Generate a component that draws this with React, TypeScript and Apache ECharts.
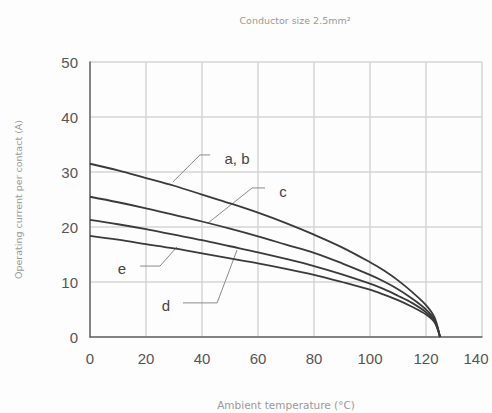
import React, { useEffect, useRef } from "react";
import * as echarts from "echarts";

const temps = [0, 10, 20, 30, 40, 50, 60, 70, 80, 90, 100, 105, 110, 115, 120, 123, 125];
const curveAB = [31.5, 30.3, 28.9, 27.5, 25.9, 24.3, 22.6, 20.7, 18.6, 16.3, 13.6, 12.1, 10.3, 8.2, 5.8, 3.6, 0];
const curveC = [25.5, 24.5, 23.4, 22.2, 21.0, 19.7, 18.3, 16.8, 15.3, 13.4, 11.3, 10.1, 8.7, 7.0, 5.0, 3.2, 0];
const curveE = [21.3, 20.5, 19.6, 18.6, 17.6, 16.5, 15.4, 14.2, 12.9, 11.4, 9.7, 8.7, 7.5, 6.2, 4.5, 2.9, 0];
const curveD = [18.4, 17.7, 16.9, 16.1, 15.2, 14.3, 13.4, 12.4, 11.3, 10.0, 8.6, 7.7, 6.7, 5.5, 4.1, 2.7, 0];

const labels = [
  { text: "a, b", at: [52.5, 32.5], leader: [[42.9, 33.1], [39.3, 33.1], [29.6, 28.2]] },
  { text: "c", at: [68.9, 26.4], leader: [[62.5, 27.1], [57.9, 27.1], [42.1, 20.7]] },
  { text: "e", at: [11.4, 12.5], leader: [[17.9, 12.9], [25.0, 12.9], [31.1, 16.4]] },
  { text: "d", at: [27.1, 5.8], leader: [[33.2, 6.2], [45.4, 6.2], [52.5, 15.8]] },
];

const FONT = "'Liberation Sans', Arial, sans-serif";
const SMALL = "'DejaVu Sans', sans-serif";

export default function App() {
  const ref = useRef<HTMLDivElement>(null);
  useEffect(() => {
    if (!ref.current) return;
    const chart = echarts.init(ref.current, null, { renderer: "svg" });
    const mk = (vals: number[]) => ({
      type: "line",
      data: temps.map((t, i) => [t, vals[i]]),
      smooth: 0.35,
      showSymbol: false,
      lineStyle: { color: "#3a3a3a", width: 1.8 },
    });
    chart.setOption({
      animation: false,
      backgroundColor: "#fdfdfd",
      title: {
        text: "Conductor size 2.5mm²",
        left: 290,
        textAlign: "center",
        top: 10,
        textStyle: { fontSize: 9.5, fontWeight: "normal", color: "#9a9a9a", fontFamily: SMALL },
      },
      grid: { left: 90, right: 10, top: 62, bottom: 76, outerBoundsMode: "none", containLabel: false },
      xAxis: {
        type: "value",
        min: 0,
        max: 140,
        interval: 20,
        name: "Ambient temperature (°C)",
        nameLocation: "middle",
        nameGap: 62,
        nameTextStyle: { fontSize: 10.5, color: "#9a9a9a", fontFamily: SMALL },
        axisLine: { lineStyle: { color: "#666", width: 1.5 } },
        axisTick: { show: false },
        axisLabel: {
          fontSize: 15,
          color: "#555",
          margin: 14,
          fontFamily: FONT,
          formatter: (v: number) => (v === 140 ? "{r|" + v + "}" : "" + v),
          rich: { r: { fontSize: 15, color: "#555", fontFamily: FONT, padding: [0, 12, 0, 0] } },
        },
        splitLine: { show: true, lineStyle: { color: "#d4d4d4", width: 1.5 } },
      },
      yAxis: {
        type: "value",
        min: 0,
        max: 50,
        interval: 10,
        name: "Operating current per contact (A)",
        nameLocation: "middle",
        nameGap: 67,
        nameRotate: 90,
        nameTextStyle: { fontSize: 9.5, color: "#9a9a9a", fontFamily: SMALL },
        axisLine: { show: true, lineStyle: { color: "#666", width: 1.5 } },
        axisTick: { show: false },
        axisLabel: { fontSize: 15, color: "#555", margin: 12, fontFamily: FONT },
        splitLine: { show: true, lineStyle: { color: "#d4d4d4", width: 1.5 } },
      },
      series: [mk(curveAB), mk(curveC), mk(curveE), mk(curveD)],
    });
    const toPx = (p: number[]) => chart.convertToPixel({ gridIndex: 0 }, p) as number[];
    const graphics: any[] = [];
    labels.forEach((l) => {
      const [tx, ty] = toPx(l.at);
      graphics.push({
        type: "text",
        x: tx,
        y: ty,
        style: {
          text: l.text,
          fontSize: 15,
          fill: "#444",
          fontFamily: FONT,
          textAlign: "center",
          textVerticalAlign: "middle",
        },
      });
      graphics.push({
        type: "polyline",
        shape: { points: l.leader.map(toPx) },
        style: { stroke: "#8a8a8a", lineWidth: 1, fill: "none" },
      });
    });
    chart.setOption({ graphic: graphics });
    return () => chart.dispose();
  }, []);
  return (
    <div
      ref={ref}
      style={{ position: "fixed", left: 0, top: 0, width: 492, height: 413 }}
    />
  );
}
